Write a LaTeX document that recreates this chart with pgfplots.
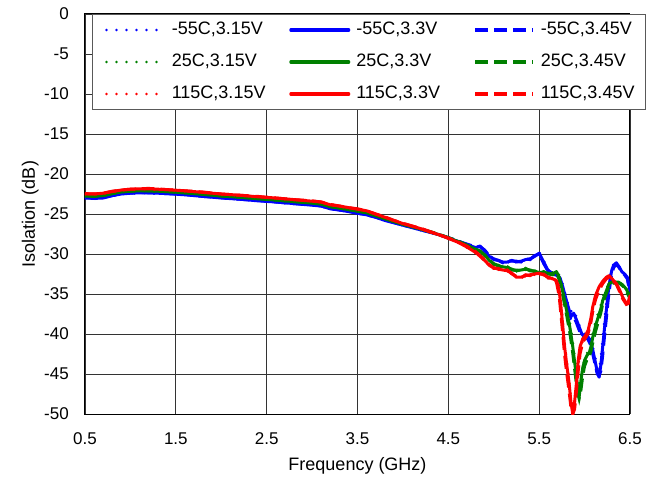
\documentclass[border=0pt]{standalone}
\usepackage{fontspec}
\setmainfont{Liberation Sans}
\usepackage{pgfplots}
\pgfplotsset{compat=1.18}
\usepackage{pgfplotstable}

\definecolor{cBlue}{RGB}{0,0,255}
\definecolor{cGreen}{RGB}{0,128,0}
\definecolor{cRed}{RGB}{255,0,0}

% isolation vs frequency; columns: f, 3.15 V, 3.3 V, 3.45 V
\pgfplotstableread{
f a b c
0.5 -23.05 -23.0 -22.95
0.6 -23.1 -23.05 -23.0
0.7 -23.0 -23.0 -22.95
0.8 -22.75 -22.7 -22.7
0.9 -22.5 -22.5 -22.45
1.0 -22.45 -22.4 -22.4
1.1 -22.35 -22.35 -22.3
1.2 -22.4 -22.35 -22.35
1.4 -22.5 -22.45 -22.45
1.6 -22.6 -22.6 -22.55
1.8 -22.85 -22.8 -22.8
2.0 -23.0 -23.0 -22.95
2.2 -23.2 -23.15 -23.15
2.4 -23.35 -23.35 -23.3
2.6 -23.55 -23.5 -23.5
2.8 -23.75 -23.7 -23.7
3.0 -23.9 -23.9 -23.85
3.1 -24.05 -24.0 -24.0
3.2 -24.4 -24.35 -24.3
3.3 -24.55 -24.5 -24.5
3.4 -24.7 -24.7 -24.65
3.5 -24.95 -24.9 -24.9
3.6 -25.15 -25.1 -25.1
3.7 -25.45 -25.4 -25.4
3.8 -25.85 -25.8 -25.75
3.9 -26.1 -26.1 -26.05
4.0 -26.45 -26.4 -26.4
4.1 -26.7 -26.7 -26.65
4.2 -27.05 -27.0 -27.0
4.3 -27.3 -27.3 -27.25
4.4 -27.65 -27.6 -27.6
4.5 -28.0 -28.0 -27.95
4.6 -28.45 -28.4 -28.35
4.7 -28.8 -28.8 -28.75
4.8 -29.3 -29.2 -29.1
4.85 -28.9 -29.0 -29.1
4.9 -29.8 -29.6 -29.5
4.95 -30.2 -30.3 -30.2
5.0 -30.5 -30.6 -30.7
5.05 -30.9 -30.8 -30.8
5.1 -30.8 -31.0 -31.1
5.15 -31.2 -31.0 -30.9
5.2 -30.6 -30.8 -30.9
5.25 -31.1 -31.0 -30.9
5.3 -30.7 -30.9 -31.0
5.35 -30.8 -30.7 -30.6
5.4 -30.4 -30.6 -30.7
5.45 -30.4 -30.3 -30.2
5.5 -29.7 -29.9 -30.0
5.55 -30.8 -31.0 -31.2
5.6 -32.0 -32.1 -32.2
5.65 -32.3 -32.4 -32.5
5.7 -32.5 -32.6 -32.7
5.73 -32.8 -33.0 -33.2
5.76 -33.8 -34.1 -34.4
5.79 -35.0 -35.4 -35.7
5.82 -36.3 -36.6 -36.9
5.85 -37.2 -37.8 -38.0
5.88 -36.9 -37.4 -37.8
5.91 -37.8 -38.2 -38.6
5.94 -38.8 -39.1 -39.5
5.97 -39.6 -40.0 -40.3
6.0 -40.0 -40.4 -40.6
6.03 -39.9 -40.2 -40.5
6.06 -40.4 -40.8 -41.2
6.09 -41.5 -42.0 -42.5
6.12 -43.0 -43.6 -44.0
6.14 -44.2 -44.8 -45.0
6.16 -44.6 -45.4 -45.2
6.18 -42.6 -43.8 -44.6
6.20 -40.2 -41.5 -42.6
6.22 -38.0 -39.2 -40.2
6.24 -35.9 -37.0 -38.0
6.26 -34.0 -34.8 -35.7
6.28 -32.7 -33.2 -33.9
6.30 -31.7 -32.0 -32.5
6.32 -31.2 -31.4 -31.7
6.35 -31.0 -31.1 -31.3
6.38 -31.5 -31.6 -31.7
6.41 -32.1 -32.2 -32.3
6.44 -32.4 -32.5 -32.6
6.47 -32.8 -32.9 -33.1
6.5 -34.4 -34.6 -34.9
}\coldtab

\pgfplotstableread{
f a b c
0.5 -22.8 -22.75 -22.7
0.6 -22.85 -22.8 -22.75
0.7 -22.75 -22.7 -22.7
0.8 -22.5 -22.45 -22.45
0.9 -22.3 -22.25 -22.2
1.0 -22.2 -22.15 -22.15
1.1 -22.1 -22.1 -22.05
1.2 -22.15 -22.1 -22.1
1.4 -22.25 -22.2 -22.2
1.6 -22.4 -22.35 -22.35
1.8 -22.6 -22.55 -22.5
2.0 -22.8 -22.75 -22.75
2.2 -22.95 -22.9 -22.9
2.4 -23.15 -23.1 -23.05
2.6 -23.3 -23.25 -23.25
2.8 -23.5 -23.45 -23.45
3.0 -23.7 -23.65 -23.6
3.1 -23.8 -23.75 -23.75
3.2 -24.15 -24.1 -24.05
3.3 -24.3 -24.25 -24.25
3.4 -24.5 -24.45 -24.45
3.5 -24.7 -24.65 -24.6
3.6 -24.9 -24.85 -24.85
3.7 -25.25 -25.2 -25.2
3.8 -25.65 -25.6 -25.55
3.9 -26.0 -25.95 -25.9
4.0 -26.3 -26.3 -26.25
4.1 -26.6 -26.6 -26.55
4.2 -26.95 -26.9 -26.9
4.3 -27.3 -27.25 -27.2
4.4 -27.6 -27.6 -27.55
4.5 -28.0 -28.0 -27.95
4.6 -28.45 -28.4 -28.35
4.7 -28.95 -28.9 -28.85
4.8 -29.3 -29.4 -29.45
4.85 -29.8 -29.7 -29.6
4.9 -30.0 -30.1 -30.2
4.95 -30.9 -30.8 -30.7
5.0 -31.0 -31.2 -31.3
5.05 -31.6 -31.5 -31.4
5.1 -31.4 -31.6 -31.7
5.15 -31.8 -31.7 -31.6
5.2 -31.7 -31.9 -32.0
5.25 -32.2 -32.1 -32.0
5.3 -31.8 -32.0 -32.1
5.35 -32.0 -31.9 -31.8
5.4 -31.8 -32.0 -32.1
5.45 -32.3 -32.2 -32.1
5.5 -32.1 -32.3 -32.4
5.55 -32.4 -32.3 -32.2
5.6 -32.3 -32.4 -32.5
5.65 -32.3 -32.5 -32.6
5.69 -32.0 -32.2 -32.3
5.72 -32.6 -32.9 -33.2
5.75 -33.8 -34.2 -34.6
5.78 -35.3 -35.8 -36.3
5.81 -37.0 -37.5 -38.1
5.84 -38.7 -39.3 -40.0
5.87 -40.8 -41.6 -42.4
5.90 -43.6 -44.4 -45.3
5.92 -45.6 -46.4 -47.2
5.94 -47.3 -47.9 -48.1
5.96 -46.0 -45.8 -47.0
5.98 -44.0 -44.2 -45.2
6.0 -43.0 -43.3 -44.0
6.03 -42.3 -42.6 -43.1
6.05 -42.0 -42.4 -42.8
6.07 -41.0 -41.6 -42.2
6.09 -39.8 -40.4 -41.1
6.12 -38.4 -39.0 -39.7
6.15 -37.3 -37.9 -38.5
6.18 -36.3 -36.8 -37.3
6.2 -35.4 -35.8 -36.2
6.24 -34.3 -34.6 -34.9
6.27 -33.5 -33.7 -34.0
6.3 -33.3 -33.5 -33.7
6.33 -33.4 -33.5 -33.6
6.37 -33.4 -33.5 -33.6
6.4 -33.6 -33.7 -33.8
6.43 -33.9 -34.0 -34.1
6.46 -34.2 -34.4 -34.6
6.5 -35.2 -35.4 -35.6
}\roomtab

\pgfplotstableread{
f a b c
0.5 -22.55 -22.5 -22.45
0.6 -22.55 -22.5 -22.5
0.7 -22.45 -22.4 -22.4
0.8 -22.25 -22.2 -22.15
0.9 -22.05 -22.0 -22.0
1.0 -21.95 -21.9 -21.9
1.1 -21.9 -21.85 -21.85
1.2 -21.9 -21.85 -21.8
1.4 -22.0 -21.95 -21.95
1.6 -22.15 -22.1 -22.1
1.8 -22.35 -22.3 -22.25
2.0 -22.55 -22.5 -22.5
2.2 -22.7 -22.65 -22.65
2.4 -22.9 -22.85 -22.8
2.6 -23.05 -23.0 -23.0
2.8 -23.25 -23.2 -23.2
3.0 -23.45 -23.4 -23.35
3.1 -23.55 -23.5 -23.5
3.2 -23.9 -23.85 -23.8
3.3 -24.05 -24.0 -24.0
3.4 -24.25 -24.2 -24.2
3.5 -24.45 -24.4 -24.35
3.6 -24.65 -24.6 -24.6
3.7 -25.05 -25.0 -25.0
3.8 -25.45 -25.4 -25.35
3.9 -25.85 -25.8 -25.8
4.0 -26.2 -26.2 -26.15
4.1 -26.55 -26.5 -26.5
4.2 -26.9 -26.85 -26.8
4.3 -27.3 -27.25 -27.2
4.4 -27.65 -27.6 -27.6
4.5 -28.1 -28.05 -28.0
4.6 -28.55 -28.5 -28.45
4.7 -29.2 -29.1 -29.0
4.8 -29.9 -29.8 -29.7
4.85 -30.4 -30.3 -30.2
4.9 -30.9 -30.8 -30.7
4.95 -31.5 -31.4 -31.3
5.0 -31.6 -31.7 -31.8
5.05 -32.0 -31.9 -31.8
5.1 -31.9 -32.0 -32.1
5.15 -32.2 -32.1 -32.0
5.2 -32.3 -32.4 -32.5
5.25 -33.0 -32.9 -32.8
5.3 -32.8 -32.9 -33.0
5.35 -32.8 -32.7 -32.6
5.4 -32.5 -32.6 -32.7
5.45 -32.6 -32.5 -32.4
5.5 -32.3 -32.4 -32.5
5.55 -32.7 -32.6 -32.5
5.6 -32.8 -32.9 -33.0
5.65 -33.2 -33.1 -33.0
5.69 -33.2 -33.3 -33.5
5.72 -34.0 -34.5 -35.2
5.74 -35.8 -36.6 -37.6
5.76 -38.2 -39.0 -40.0
5.78 -40.8 -41.6 -42.6
5.80 -42.8 -43.5 -44.6
5.83 -45.6 -46.2 -47.2
5.85 -48.0 -48.5 -49.2
5.87 -49.8 -50.0 -50.0
5.89 -48.9 -48.5 -49.4
5.91 -46.9 -46.2 -47.2
5.93 -44.2 -43.3 -44.6
5.95 -42.3 -41.6 -42.5
5.98 -40.9 -40.6 -41.0
6.01 -40.4 -40.2 -40.5
6.04 -39.8 -39.5 -39.9
6.07 -38.4 -38.0 -38.5
6.09 -37.0 -36.6 -37.2
6.12 -35.5 -35.2 -35.7
6.16 -34.3 -34.1 -34.5
6.2 -33.5 -33.4 -33.7
6.24 -33.0 -32.9 -33.1
6.27 -32.8 -32.7 -32.9
6.31 -33.3 -33.2 -33.3
6.35 -33.8 -33.7 -33.8
6.39 -34.7 -34.6 -34.8
6.42 -35.5 -35.4 -35.6
6.46 -36.3 -36.2 -36.3
6.48 -36.1 -36.0 -36.2
6.5 -35.3 -35.2 -35.4
}\hottab

\newcommand{\entA}[1]{\makebox[105bp][l]{#1}}
\newcommand{\entC}[1]{\makebox[105bp][l]{#1}}

\begin{document}
\begin{tikzpicture}
\useasboundingbox (-85bp,-66bp) rectangle (571bp,414bp);
\begin{axis}[
  at={(0,0)}, anchor=south west,
  scale only axis, width=545bp, height=400bp,
  xmin=0.5, xmax=6.5, ymin=-50, ymax=0,
  xtick={0.5,1.5,2.5,3.5,4.5,5.5,6.5},
  ytick={-50,-45,-40,-35,-30,-25,-20,-15,-10,-5,0},
  /pgf/number format/assume math mode=true,
  xticklabel={\pgfmathprintnumber[fixed,fixed zerofill,precision=1]{\tick}},
  grid=major,
  major grid style={black!80, line width=0.9bp},
  axis line style={black, line width=1bp},
  major tick length=0pt,
  tick label style={font=\fontsize{17bp}{20bp}\selectfont, inner sep=0pt},
  xticklabel style={anchor=base, yshift=-30bp},
  yticklabel style={anchor=east, xshift=-16bp},
  xlabel={Frequency (GHz)},
  ylabel={Isolation (dB)},
  label style={font=\fontsize{18bp}{21bp}\selectfont, inner sep=0pt},
  xlabel style={at={([yshift=-56.5bp]axis description cs:0.5,0)}, anchor=base},
  ylabel style={at={([xshift=-50bp]axis description cs:0,0.5)}, anchor=base},
  legend columns=3,
  legend style={at={([xshift=7bp]axis description cs:0,1)}, anchor=north west,
    draw=black!65, line width=1bp, fill=white,
    inner xsep=0pt, inner ysep=7bp, row sep=15bp,
    font=\fontsize{18bp}{21bp}\selectfont,
    nodes={inner sep=0pt, text height=13bp, text depth=4bp},
    /tikz/every odd column/.append style={column sep=6bp}},
  legend cell align=left,
  legend image code/.code={
    \path[draw=none, fill=none] (-14bp,-8.5bp) rectangle (58bp,8.5bp);
    \draw[#1] (0bp,0bp) -- (58bp,0bp);},
  dotline/.style={line width=2.6bp, line cap=round, dash pattern=on 0bp off 10bp},
  solidline/.style={line width=3bp, line cap=round, line join=round},
  dashline/.style={line width=3bp, dash pattern=on 13bp off 6bp},
]
\addplot[cBlue, dotline] table[x=f, y=a] {\coldtab};
\addlegendentry{\entA{-55C,3.15V}}
\addplot[cBlue, solidline] table[x=f, y=b] {\coldtab};
\addlegendentry{\entA{-55C,3.3V}}
\addplot[cBlue, dashline] table[x=f, y=c] {\coldtab};
\addlegendentry{\entC{-55C,3.45V}}
\addplot[cGreen, dotline] table[x=f, y=a] {\roomtab};
\addlegendentry{\entA{25C,3.15V}}
\addplot[cGreen, solidline] table[x=f, y=b] {\roomtab};
\addlegendentry{\entA{25C,3.3V}}
\addplot[cGreen, dashline] table[x=f, y=c] {\roomtab};
\addlegendentry{\entC{25C,3.45V}}
\addplot[cRed, dotline] table[x=f, y=a] {\hottab};
\addlegendentry{\entA{115C,3.15V}}
\addplot[cRed, solidline] table[x=f, y=b] {\hottab};
\addlegendentry{\entA{115C,3.3V}}
\addplot[cRed, dashline] table[x=f, y=c] {\hottab};
\addlegendentry{\entC{115C,3.45V}}
\end{axis}
\end{tikzpicture}
\end{document}
